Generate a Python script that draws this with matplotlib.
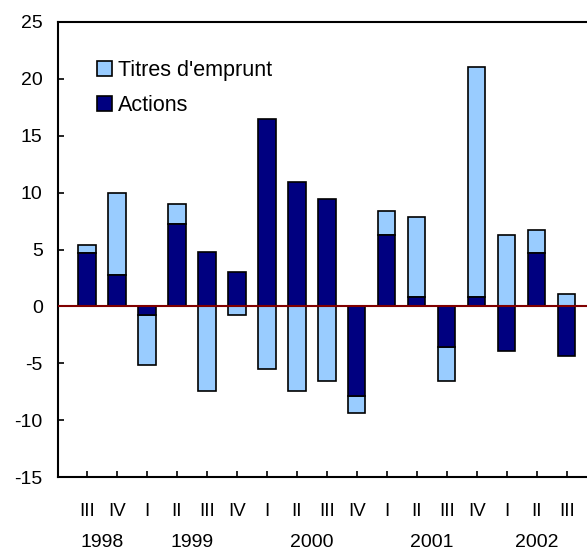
import matplotlib
matplotlib.use("Agg")
import matplotlib.pyplot as plt
import numpy as np

plt.rcParams['font.family'] = ['Liberation Sans', 'DejaVu Sans']
plt.rcParams['axes.unicode_minus'] = False

quarters = ['III', 'IV', 'I', 'II', 'III', 'IV', 'I', 'II', 'III', 'IV',
            'I', 'II', 'III', 'IV', 'I', 'II', 'III']
years = ['1998', '1999', '2000', '2001', '2002']
year_quarter_count = [2, 4, 4, 4, 3]

actions = [4.7, 2.8, -0.75, 7.2, 4.75, 3.0, 16.45, 10.9, 9.45, -7.9,
           6.3, 0.85, -3.55, 0.85, -3.9, 4.7, -4.4]
titres = [0.7, 7.2, -4.4, 1.8, -7.4, -0.75, -5.5, -7.4, -6.55, -1.45,
          2.1, 7.05, -3.0, 20.2, 6.3, 2.0, 1.05]

navy = '#000080'
light = '#99CCFF'

x = np.arange(len(quarters))
actions = np.array(actions)
titres = np.array(titres)
# titres stack on top of actions when both go the same way
bottom_t = np.where(np.sign(actions) == np.sign(titres), actions, 0.0)

fig = plt.figure(figsize=(5.87, 5.5), dpi=100)
ax = fig.add_axes([0.0988, 0.1327, 0.9012, 0.8273])

w = 0.57
ax.bar(x, titres, w, bottom=bottom_t, color=light, edgecolor='black',
       linewidth=1.2, label="Titres d'emprunt", zorder=2)
ax.bar(x, actions, w, color=navy, edgecolor='black', linewidth=1.2,
       label='Actions', zorder=2)
ax.axhline(0, color='#800000', linewidth=1.5, zorder=3)

ax.set_xlim(-0.967, 16.67)
ax.set_ylim(-15, 25)
ax.set_yticks(np.arange(-15, 26, 5))
ax.set_xticks(x)
ax.set_xticklabels([])
ax.tick_params(direction='in', length=4, width=1.2, labelsize=14)
ax.tick_params(axis='y', pad=11)
for s in ['left', 'bottom', 'top']:
    ax.spines[s].set_linewidth(1.5)
ax.spines['right'].set_visible(False)

for xi, q in zip(x, quarters):
    ax.text(xi, -17.3, q, ha='center', va='top', fontsize=13.5,
            family=['Liberation Sans Narrow', 'Liberation Sans'],
            clip_on=False)
start = 0
for yr, n in zip(years, year_quarter_count):
    ax.text(start + (n - 1) / 2, -20.05, yr, ha='center', va='top',
            fontsize=14, clip_on=False)
    start += n

ax.legend(loc='upper left', bbox_to_anchor=(0.057, 0.936), frameon=False,
          fontsize=15.5, handlelength=0.7, handleheight=0.7,
          handletextpad=0.3, labelspacing=0.65, borderaxespad=0)

fig.savefig('out.png', dpi=100)
